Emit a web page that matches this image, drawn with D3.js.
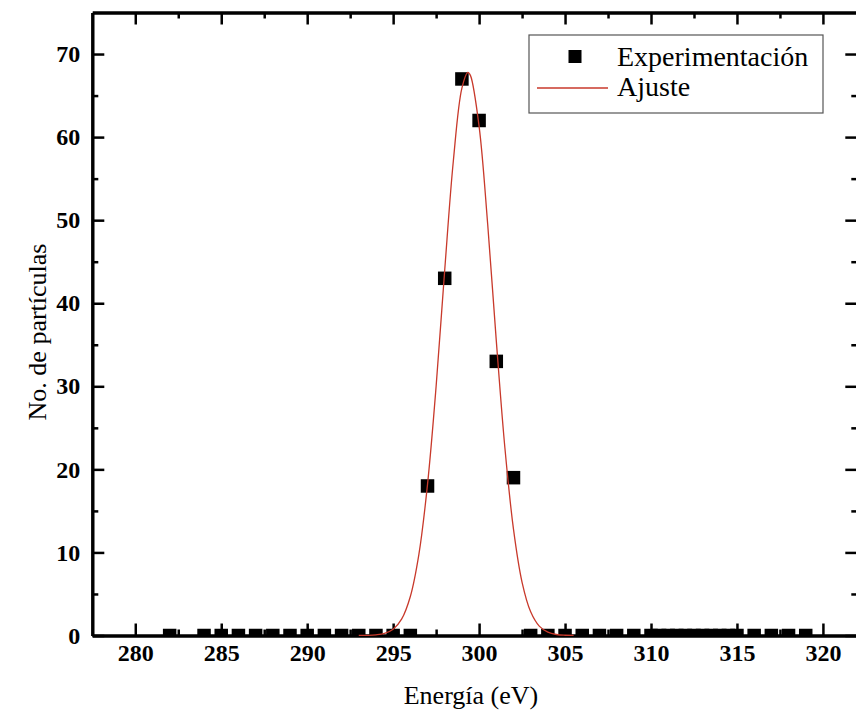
<!DOCTYPE html>
<html><head><meta charset="utf-8">
<script src="https://cdn.jsdelivr.net/npm/d3@7"></script>
<style>body{margin:0;background:#fff}svg{display:block}</style></head>
<body>
<script>
// Experimental data (energy in eV, particle counts)
const expEnergy = [282,284,285,286,287,288,289,290,291,292,293,294,295,296,
  297,298,299,300,301,302,
  303,304,305,306,307,308,309,310,310.5,311,311.5,312,312.5,313,313.5,314,314.5,315,316,317,318,319];
const expCounts = [0,0,0,0,0,0,0,0,0,0,0,0,0,0,
  18,43,67,62,33,19,
  0,0,0,0,0,0,0,0,0,0,0,0,0,0,0,0,0,0,0,0,0,0];
// Fitted curve
const fitEnergy = [293,293.5,294,294.5,295,295.5,296,296.5,297,297.5,298,298.5,299,299.35,299.5,300,300.5,301,301.5,302,302.5,303,303.5,304,304.5,305,305.5];
const fitCounts = [0.005,0.02,0.08,0.25,0.75,2.0,4.7,9.8,18.2,30.0,44.0,57.1,65.9,67.8,67.4,61.3,49.5,35.5,22.6,12.8,6.4,2.85,1.13,0.4,0.12,0.03,0.01];
const xTicks = [280,285,290,295,300,305,310,315,320];
const xMinor = [282.5,287.5,292.5,297.5,302.5,307.5,312.5,317.5];
const yTicks = [0,10,20,30,40,50,60,70];
const yMinor = [5,15,25,35,45,55,65];
const legendLabels = ["Experimentación","Ajuste"];

const W = 856, H = 726;
const L = 92.3, R = 857.3, T = 12.5, B = 635.5;
const svg = d3.select("body").append("svg").attr("width", W).attr("height", H);
const x = d3.scaleLinear().domain([277.5, 322]).range([L, R]);
const y = d3.scaleLinear().domain([0, 75]).range([B, T]);
const fitColor = "#c8392b";
const font = "'Liberation Serif','Times New Roman',serif";

svg.append("clipPath").attr("id","clip").append("rect")
  .attr("x", L).attr("y", T).attr("width", R-L).attr("height", B-T);

function styleAxis(g){
  g.selectAll("path.domain").attr("stroke","#000").attr("stroke-width",3);
  g.selectAll(".tick line").attr("stroke","#000").attr("stroke-width",2.5);
  g.selectAll(".tick text").attr("font-family",font).attr("font-weight","bold")
    .attr("font-size","24px").attr("fill","#000");
}
// bottom
svg.append("g").attr("transform",`translate(0,${B})`)
  .call(d3.axisBottom(x).tickValues(xTicks).tickSize(-12).tickSizeOuter(0).tickPadding(8).tickFormat(d3.format("d")))
  .call(styleAxis);
svg.append("g").attr("transform",`translate(0,${B})`)
  .call(d3.axisBottom(x).tickValues(xMinor).tickSize(-6).tickSizeOuter(0).tickFormat(""))
  .call(styleAxis);
// top
svg.append("g").attr("transform",`translate(0,${T})`)
  .call(d3.axisTop(x).tickValues(xTicks).tickSize(-12).tickSizeOuter(0).tickFormat(""))
  .call(styleAxis);
svg.append("g").attr("transform",`translate(0,${T})`)
  .call(d3.axisTop(x).tickValues(xMinor).tickSize(-6).tickSizeOuter(0).tickFormat(""))
  .call(styleAxis);
// left
svg.append("g").attr("transform",`translate(${L},0)`)
  .call(d3.axisLeft(y).tickValues(yTicks).tickSize(-12).tickSizeOuter(0).tickPadding(12).tickFormat(d3.format("d")))
  .call(styleAxis);
svg.append("g").attr("transform",`translate(${L},0)`)
  .call(d3.axisLeft(y).tickValues(yMinor).tickSize(-6).tickSizeOuter(0).tickFormat(""))
  .call(styleAxis);
// right
svg.append("g").attr("transform",`translate(${R},0)`)
  .call(d3.axisRight(y).tickValues(yTicks).tickSize(-12).tickSizeOuter(0).tickFormat(""))
  .call(styleAxis);
svg.append("g").attr("transform",`translate(${R},0)`)
  .call(d3.axisRight(y).tickValues(yMinor).tickSize(-6).tickSizeOuter(0).tickFormat(""))
  .call(styleAxis);

// points
const pts = expEnergy.map((e,i)=>({e, c: expCounts[i]}));
const S = 13.5;
svg.append("g").attr("clip-path","url(#clip)").selectAll("rect").data(pts).join("rect")
  .attr("x", d=>x(d.e)-S/2).attr("y", d=>y(d.c)-S/2).attr("width",S).attr("height",S)
  .attr("fill","#000");

// fit curve
const fit = fitEnergy.map((e,i)=>({e, c: fitCounts[i]}));
svg.append("path").datum(fit)
  .attr("d", d3.line().x(d=>x(d.e)).y(d=>y(d.c)).curve(d3.curveCatmullRom))
  .attr("fill","none").attr("stroke",fitColor).attr("stroke-width",1.3);

// axis titles
svg.append("text").attr("x",471).attr("y",704).attr("text-anchor","middle")
  .attr("font-family",font).attr("font-size","26px").text("Energía (eV)");
svg.append("text").attr("transform","translate(46,332) rotate(-90)").attr("text-anchor","middle")
  .attr("font-family",font).attr("font-size","26px").text("No. de partículas");

// legend
const lg = svg.append("g");
lg.append("rect").attr("x",529).attr("y",35).attr("width",294).attr("height",78)
  .attr("fill","#fff").attr("stroke","#555").attr("stroke-width",1.2);
lg.append("rect").attr("x",575-6.5).attr("y",56.5-6.5).attr("width",13).attr("height",13).attr("fill","#000");
lg.append("line").attr("x1",537).attr("x2",608).attr("y1",88).attr("y2",88)
  .attr("stroke",fitColor).attr("stroke-width",1.3);
lg.selectAll("text.lab").data(legendLabels).join("text").attr("class","lab")
  .attr("x",617).attr("y",(d,i)=>[66,96][i])
  .attr("font-family",font).attr("font-size","28px").text(d=>d);
</script>
</body></html>
